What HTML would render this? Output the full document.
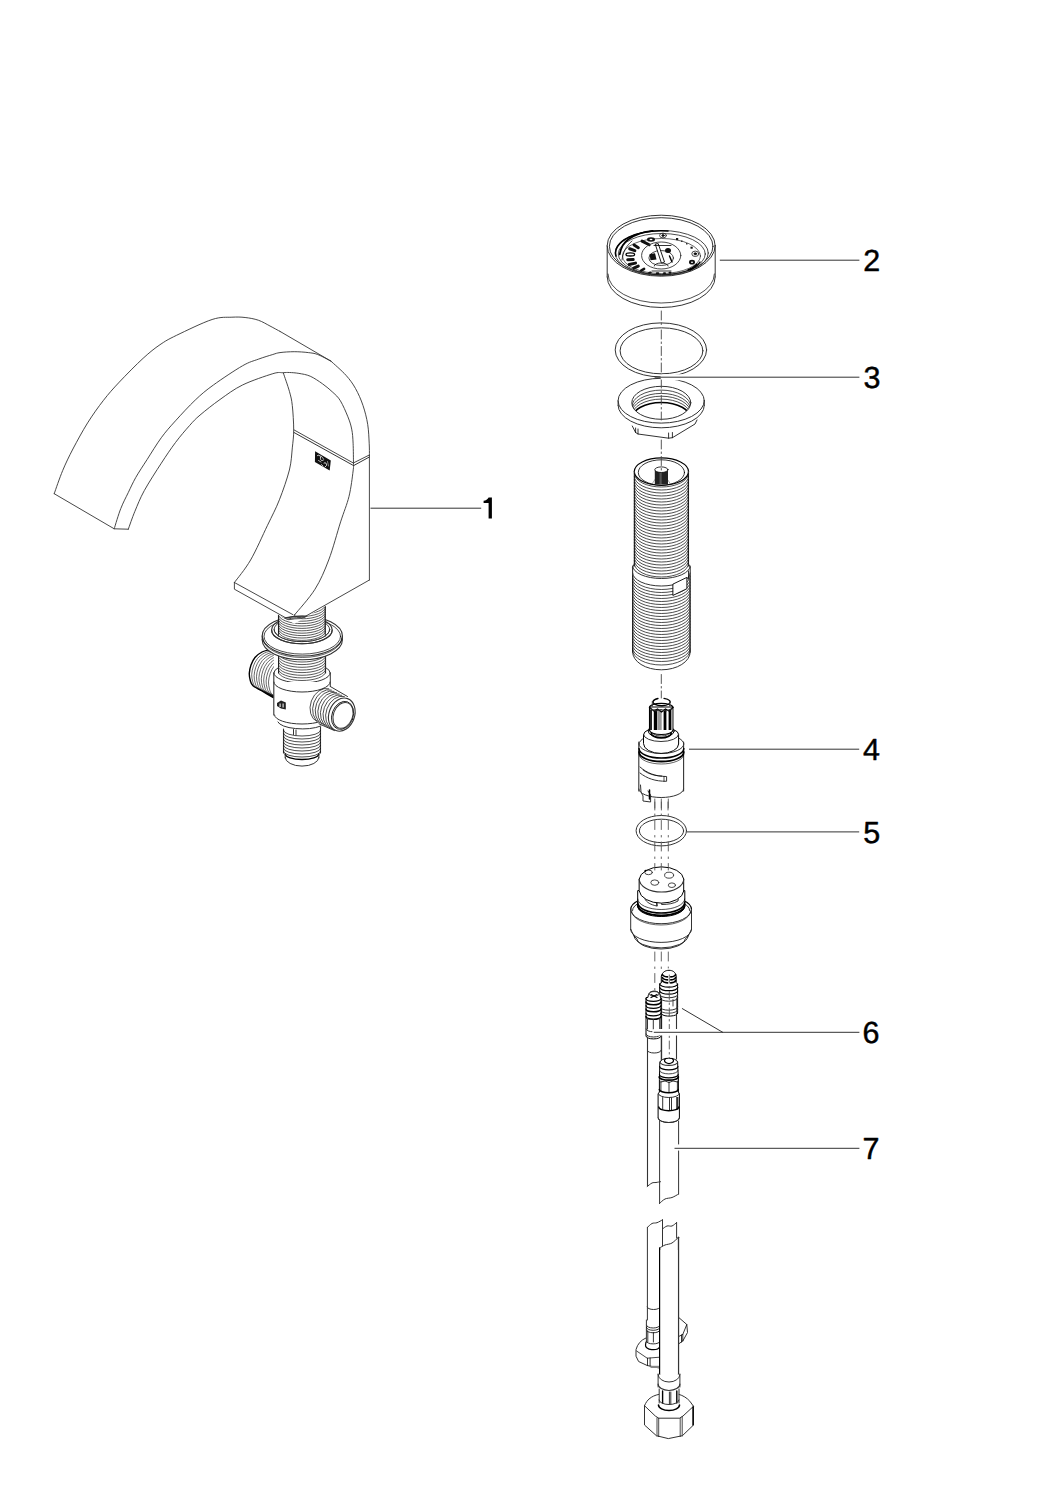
<!DOCTYPE html>
<html><head><meta charset="utf-8"><style>
html,body{margin:0;padding:0;background:#fff;width:1060px;height:1500px;overflow:hidden}
svg{display:block}
text{font-family:"Liberation Sans",sans-serif;fill:#000;text-rendering:geometricPrecision}
</style></head><body>
<svg width="1060" height="1500" viewBox="0 0 1060 1500" stroke-linecap="round" stroke-linejoin="round">
<rect width="1060" height="1500" fill="#fff"/>
<path d="M54.2,493.7 C55.6,489.8 59.6,477.9 62.7,470.5 C65.8,463.1 68.8,456.9 72.9,449 C77.1,441.1 82.5,431 87.6,422.9 C92.7,414.8 98.2,407.1 103.5,400.3 C108.8,393.5 112.7,389.1 119.3,382.1 C125.9,375.1 136.3,364.5 143.1,358.3 C149.9,352.1 154.4,348.5 160,344.7 C165.6,340.9 167.7,339.6 176.4,335.4 C185.1,331.2 202.8,322.5 212.1,319.5 C221.3,316.5 226.4,317.5 231.9,317.2 C237.4,316.9 240.7,317 245.1,317.5 C249.5,318 254.2,318.8 258.3,320.2 C262.4,321.6 266.4,324.1 270,326 C273.6,327.9 278.3,330.5 280,331.4" stroke="#333" stroke-width="0.9" fill="none" />
<path d="M280,331.4 L330.9,361.1" stroke="#333" stroke-width="0.9" fill="none" />
<path d="M330.9,361.1 C333.4,363.5 341.9,370.7 346,375.3 C350.1,379.9 352.7,383.5 355.5,388.5 C358.3,393.5 361,399.5 363,405.5 C365,411.5 366.7,418 367.7,424.3 C368.7,430.6 368.9,438 369.2,443.2 C369.5,448.4 369.4,453.4 369.4,455.5" stroke="#333" stroke-width="0.9" fill="none" />
<line x1="369.4" y1="455.5" x2="369.4" y2="580" stroke="#333" stroke-width="0.9" />
<path d="M114.2,528.8 C115.3,525.4 118.4,514.5 120.8,508.5 C123.2,502.4 125.8,497.7 128.3,492.5 C130.8,487.3 132.7,482.9 135.8,477.4 C139,471.9 142.9,466 147.2,459.4 C151.4,452.8 156.6,444.1 161.3,437.7 C166,431.3 169.8,427.1 175.5,420.8 C181.2,414.5 189,406 195.3,400 C201.6,394 205.5,390.7 213.4,385 C221.3,379.3 235,370.1 242.5,365.8 C250,361.5 253.2,361.1 258.3,359.2 C263.4,357.3 269.2,355.6 272.8,354.5 C276.4,353.4 276.4,353.1 280,352.6 C283.6,352.1 289.5,351.7 294.2,351.7 C298.9,351.7 304.4,352.1 308.3,352.6 C312.2,353.1 313.9,353.1 317.7,354.5 C321.5,355.9 328.7,360 330.9,361.1" stroke="#333" stroke-width="0.9" fill="none" />
<path d="M128.3,529.2 C129.4,526.2 132.2,517.7 134.9,511.3 C137.6,504.9 139.9,498.6 144.3,490.6 C148.7,482.6 156.1,471.2 161.3,463.2 C166.5,455.2 170.8,448.8 175.5,442.5 C180.2,436.2 185.5,430.1 189.6,425.5 C193.7,420.9 194.9,419.4 200,415.1 C205.1,410.8 212.9,404.5 220,399.5 C227.1,394.5 233.7,389.3 242.5,385 C251.3,380.7 266,375.8 272.8,373.7 C279.6,371.6 280.5,372.9 283.3,372.7 C286.1,372.5 286.8,372.4 289.4,372.5 C292,372.6 295.4,372.8 298.9,373.4 C302.4,374 306.3,374.5 310.2,376.2 C314.1,377.9 318.7,381.1 322.5,383.8 C326.3,386.5 329.8,389.5 332.8,392.3 C335.8,395.1 337.9,396.7 340.4,400.8 C342.9,404.9 346,412.1 347.9,416.8 C349.8,421.5 350.8,424.7 351.7,429.1 C352.6,433.5 352.8,437.5 353.1,443.2 C353.4,448.9 353.4,460.1 353.5,463.5" stroke="#333" stroke-width="0.9" fill="none" />
<path d="M353.5,463.5 C353.4,464.8 353.9,465.5 353.1,471 C352.4,476.5 351.1,487.9 349,496.4 C346.9,504.9 344,511.3 340.6,521.9 C337.2,532.5 333,548.8 328.7,560 C324.4,571.2 320.7,580.1 315,589.2 C309.3,598.3 298.1,610.5 294.7,614.7" stroke="#333" stroke-width="0.9" fill="none" />
<path d="M283.3,372.9 C284.3,376 287.9,385.9 289.4,391.3 C290.9,396.7 291.6,399.1 292.3,405.5 C293,411.9 293.7,422.9 293.7,430 C293.7,437.1 293,441.2 292.3,447.9 C291.6,454.6 291.5,461.4 289.4,470 C287.2,478.6 283,490.6 279.4,499.8 C275.8,509 272.3,515.3 267.5,525.3 C262.7,535.3 256.1,550.5 250.6,560 C245.1,569.5 237.1,578.8 234.4,582.5" stroke="#333" stroke-width="0.9" fill="none" />
<path d="M54.2,493.7 L114.2,528.8 L128.3,529.2" stroke="#333" stroke-width="0.9" fill="none" />
<path d="M294.2,430 L353.3,463 L368.9,455.2" stroke="#333" stroke-width="0.9" fill="none" />
<path d="M294.2,432.6 L353.6,465.6 L369,457.2" stroke="#000" stroke-width="0.8" fill="none" />
<polygon points="315.1,451.3 330.8,460.4 329.7,470.6 314.9,462.1" fill="#111"/>
<path d="M317.5,455.5 C319,454.5 321,456 320.5,458 C320,460 322,461.5 323.5,460" stroke="#eee" stroke-width="0.9" fill="none" />
<path d="M321,455.8 L323.5,459" stroke="#ddd" stroke-width="0.8" fill="none" />
<path d="M318.5,460.5 L321,462" stroke="#ddd" stroke-width="0.8" fill="none" />
<path d="M324,463 C325.5,462 327,463.5 326.5,465.5 L325,467" stroke="#e8e8e8" stroke-width="0.9" fill="none" />
<path d="M327.5,461.5 L328.5,466" stroke="#bbb" stroke-width="0.7" fill="none" />
<path d="M321.5,464.5 L323,466" stroke="#ddd" stroke-width="0.8" fill="none" />
<path d="M234.4,582.5 L293,614.7" stroke="#333" stroke-width="0.9" fill="none" />
<path d="M234.4,582.5 L234.4,589.2 L293.9,622.4" stroke="#333" stroke-width="0.9" fill="none" />
<line x1="294.7" y1="614.7" x2="294.7" y2="622.4" stroke="#333" stroke-width="0.9" />
<path d="M369.4,580 L294.7,622.4" stroke="#333" stroke-width="0.9" fill="none" />
<clipPath id="clc"><rect x="240" y="640" width="33.8" height="70"/></clipPath>
<g clip-path="url(#clc)">
<path d="M270,649.5 C268.7,649.9 264.5,650.7 262,652 C259.5,653.3 256.8,655.3 255,657.5 C253.2,659.7 251.9,662.4 251,665 C250.1,667.6 249.4,670.7 249.3,673.3 C249.2,675.9 249.7,678.4 250.3,680.5 C250.9,682.6 251.1,684 253,685.7 C254.9,687.5 258.6,689 262,691 C265.4,693 271.5,696.5 273.4,697.6" stroke="#000" stroke-width="1.4" fill="none" />
<path d="M272.4,650.6 C271.1,651 266.9,651.7 264.4,653.1 C261.9,654.4 259.2,656.4 257.4,658.6 C255.6,660.7 254.3,663.4 253.4,666.1 C252.5,668.7 251.8,671.8 251.7,674.4 C251.6,677 252.1,679.5 252.7,681.6 C253.3,683.6 253.5,685 255.4,686.8 C257.4,688.5 261,690.1 264.4,692.1 C267.8,694.1 273.9,697.6 275.8,698.7" stroke="#000" stroke-width="0.6" fill="none" />
<path d="M274.8,651.7 C273.5,652.1 269.3,652.8 266.8,654.2 C264.3,655.5 261.6,657.5 259.8,659.7 C258,661.8 256.8,664.5 255.8,667.2 C254.9,669.8 254.2,672.9 254.1,675.5 C254,678 254.5,680.6 255.1,682.7 C255.7,684.7 255.9,686.1 257.8,687.9 C259.8,689.6 263.4,691.2 266.8,693.2 C270.2,695.1 276.3,698.7 278.2,699.8" stroke="#000" stroke-width="0.6" fill="none" />
<path d="M277.2,652.7 C275.9,653.2 271.7,653.9 269.2,655.2 C266.7,656.6 264,658.6 262.2,660.7 C260.4,662.9 259.1,665.6 258.2,668.2 C257.2,670.9 256.6,674 256.5,676.5 C256.4,679.1 256.9,681.7 257.5,683.7 C258.1,685.8 258.2,687.2 260.2,688.9 C262.1,690.7 265.8,692.3 269.2,694.2 C272.6,696.2 278.7,699.7 280.6,700.8" stroke="#000" stroke-width="0.6" fill="none" />
<path d="M279.6,653.8 C278.3,654.2 274.1,655 271.6,656.3 C269.1,657.7 266.4,659.7 264.6,661.8 C262.8,664 261.6,666.7 260.6,669.3 C259.7,672 259,675 258.9,677.6 C258.8,680.2 259.3,682.8 259.9,684.8 C260.5,686.9 260.7,688.3 262.6,690 C264.6,691.8 268.2,693.3 271.6,695.3 C275,697.3 281.1,700.8 283,701.9" stroke="#000" stroke-width="0.6" fill="none" />
<path d="M282,654.9 C280.7,655.3 276.5,656.1 274,657.4 C271.5,658.7 268.8,660.7 267,662.9 C265.2,665.1 263.9,667.8 263,670.4 C262.1,673 261.4,676.1 261.3,678.7 C261.2,681.3 261.7,683.8 262.3,685.9 C262.9,688 263.1,689.4 265,691.1 C266.9,692.9 270.6,694.4 274,696.4 C277.4,698.4 283.5,701.9 285.4,703" stroke="#000" stroke-width="0.6" fill="none" />
<path d="M284.4,656 C283.1,656.4 278.9,657.1 276.4,658.5 C273.9,659.8 271.2,661.8 269.4,664 C267.6,666.1 266.3,668.8 265.4,671.5 C264.4,674.1 263.8,677.2 263.7,679.8 C263.6,682.4 264.1,684.9 264.7,687 C265.3,689 265.4,690.4 267.4,692.2 C269.3,693.9 273,695.5 276.4,697.5 C279.8,699.5 285.9,703 287.8,704.1" stroke="#000" stroke-width="0.6" fill="none" />
<path d="M286.8,657.1 C285.5,657.5 281.3,658.2 278.8,659.6 C276.3,660.9 273.6,662.9 271.8,665.1 C270,667.2 268.8,669.9 267.8,672.6 C266.9,675.2 266.2,678.3 266.1,680.9 C266,683.4 266.5,686 267.1,688.1 C267.7,690.1 267.9,691.5 269.8,693.3 C271.8,695 275.4,696.6 278.8,698.6 C282.2,700.5 288.3,704.1 290.2,705.2" stroke="#000" stroke-width="0.6" fill="none" />
<path d="M289.2,658.1 C287.9,658.6 283.7,659.3 281.2,660.6 C278.7,662 276,664 274.2,666.1 C272.4,668.3 271.1,671 270.2,673.6 C269.2,676.3 268.6,679.4 268.5,681.9 C268.4,684.5 268.9,687.1 269.5,689.1 C270.1,691.2 270.2,692.6 272.2,694.3 C274.1,696.1 277.8,697.7 281.2,699.6 C284.6,701.6 290.7,705.1 292.6,706.2" stroke="#000" stroke-width="0.6" fill="none" />
</g>
<line x1="278.5" y1="650" x2="278.5" y2="673" stroke="#333" stroke-width="1" />
<line x1="325.6" y1="650" x2="325.6" y2="673" stroke="#333" stroke-width="1" />
<path d="M278.5,653.5 A23.5,8.5 0 0 0 325.5,653.5" stroke="#000" stroke-width="0.65" fill="none" />
<path d="M278.5,656.1 A23.5,8.5 0 0 0 325.5,656.1" stroke="#000" stroke-width="0.65" fill="none" />
<path d="M278.5,658.8 A23.5,8.5 0 0 0 325.5,658.8" stroke="#000" stroke-width="0.65" fill="none" />
<path d="M278.5,661.5 A23.5,8.5 0 0 0 325.5,661.5" stroke="#000" stroke-width="0.65" fill="none" />
<path d="M278.5,664.1 A23.5,8.5 0 0 0 325.5,664.1" stroke="#000" stroke-width="0.65" fill="none" />
<path d="M278.5,666.8 A23.5,8.5 0 0 0 325.5,666.8" stroke="#000" stroke-width="0.65" fill="none" />
<path d="M278.5,669.4 A23.5,8.5 0 0 0 325.5,669.4" stroke="#000" stroke-width="0.65" fill="none" />
<path d="M278.5,672 A23.5,8.5 0 0 0 325.5,672" stroke="#000" stroke-width="0.65" fill="none" />
<path d="M273.8,673 A28.2,10 0 0 0 330.3,673 L330.3,700 L273.8,715 Z" fill="#fff"/>
<path d="M273.8,673 A28.2,10 0 0 0 330.2,673" stroke="#333" stroke-width="1" fill="none" />
<path d="M273.8,673 A28.2,10 0 0 1 278.5,667.5" stroke="#333" stroke-width="1" fill="none" />
<path d="M325.6,667.5 A28.2,10 0 0 1 330.3,673" stroke="#333" stroke-width="1" fill="none" />
<path d="M273.8,682 L273.8,715 A27.5,9 0 0 0 330.3,715 L330.3,682 Z" fill="#fff"/>
<line x1="273.8" y1="673" x2="273.8" y2="715" stroke="#333" stroke-width="1.1" />
<line x1="330.3" y1="673" x2="330.3" y2="686.5" stroke="#333" stroke-width="1" />
<path d="M273.8,682 A28.2,10 0 0 0 330.2,682" stroke="#333" stroke-width="1" fill="none" />
<path d="M274.5,715 A27.5,9 0 0 0 329.5,715" stroke="#333" stroke-width="1" fill="none" />
<path d="M277.9,722 A24.5,8 0 0 0 320.9,726" stroke="#333" stroke-width="1" fill="none" />
<path d="M262.2,636 A40.1,20 0 0 1 342.4,636 L342.4,639.8 A40.1,20 0 0 1 262.2,639.8 Z" fill="#fff"/>
<ellipse cx="302.3" cy="636" rx="40.1" ry="20" stroke="#333" stroke-width="1.1" fill="none" />
<ellipse cx="302.3" cy="636.3" rx="38.3" ry="17.8" stroke="#000" stroke-width="0.7" fill="none" />
<path d="M262.2,639.8 A40.1,20 0 0 0 342.4,639.8" stroke="#333" stroke-width="1.1" fill="none" />
<path d="M262.8,638 A39.5,19.5 0 0 0 341.8,638" stroke="#000" stroke-width="0.6" fill="none" />
<line x1="262.2" y1="636" x2="262.2" y2="639.8" stroke="#333" stroke-width="1" />
<line x1="342.4" y1="636" x2="342.4" y2="639.8" stroke="#333" stroke-width="1" />
<ellipse cx="301.9" cy="630" rx="30.3" ry="13.8" stroke="#333" stroke-width="1.1" fill="none" />
<ellipse cx="301.9" cy="629.5" rx="27.8" ry="12.1" stroke="#333" stroke-width="0.9" fill="none" />
<path d="M271.6,630 A30.3,13.8 0 0 0 332.2,630" stroke="#333" stroke-width="1.1" fill="none" />
<clipPath id="cf"><polygon points="200,561 234.4,590.6 294.3,623.8 369.4,581.3 400,561 400,700 200,700"/></clipPath>
<g clip-path="url(#cf)">
<path d="M278.5,590 L278.5,636 A27.8,12.1 0 0 0 325.3,636 L325.3,590 Z" fill="#fff"/>
<line x1="278.5" y1="600" x2="278.5" y2="636" stroke="#333" stroke-width="1.1" />
<line x1="325.3" y1="600" x2="325.3" y2="636" stroke="#333" stroke-width="1.1" />
<path d="M278.5,605 A23.4,9 0 0 0 325.3,605" stroke="#000" stroke-width="0.65" fill="none" />
<path d="M278.5,607.4 A23.4,9 0 0 0 325.3,607.4" stroke="#000" stroke-width="0.65" fill="none" />
<path d="M278.5,609.8 A23.4,9 0 0 0 325.3,609.8" stroke="#000" stroke-width="0.65" fill="none" />
<path d="M278.5,612.2 A23.4,9 0 0 0 325.3,612.2" stroke="#000" stroke-width="0.65" fill="none" />
<path d="M278.5,614.6 A23.4,9 0 0 0 325.3,614.6" stroke="#000" stroke-width="0.65" fill="none" />
<path d="M278.5,617 A23.4,9 0 0 0 325.3,617" stroke="#000" stroke-width="0.65" fill="none" />
<path d="M278.5,619.4 A23.4,9 0 0 0 325.3,619.4" stroke="#000" stroke-width="0.65" fill="none" />
<path d="M278.5,621.8 A23.4,9 0 0 0 325.3,621.8" stroke="#000" stroke-width="0.65" fill="none" />
<path d="M278.5,624.2 A23.4,9 0 0 0 325.3,624.2" stroke="#000" stroke-width="0.65" fill="none" />
<path d="M278.5,626.6 A23.4,9 0 0 0 325.3,626.6" stroke="#000" stroke-width="0.65" fill="none" />
<path d="M278.5,629 A23.4,9 0 0 0 325.3,629" stroke="#000" stroke-width="0.65" fill="none" />
<path d="M278.5,631.4 A23.4,9 0 0 0 325.3,631.4" stroke="#000" stroke-width="0.65" fill="none" />
</g>
<path d="M274.1,629.5 A27.8,12.1 0 0 0 329.7,629.5" stroke="#333" stroke-width="1.0" fill="none" />
<polygon points="277,703 281,700.5 285.8,702.5 285.8,709.5 281,708.5 277,706" fill="#222"/>
<rect x="279.5" y="703.5" width="1.2" height="3.5" fill="#ddd"/>
<rect x="282.5" y="703.5" width="1.2" height="4" fill="#ddd"/>
<polygon points="311,700 330.3,686.5 349,697 352,720 334.5,730.6 321,724.7 311,716" fill="#fff"/>
<line x1="330.3" y1="686.5" x2="347.5" y2="696.5" stroke="#333" stroke-width="1" />
<line x1="319" y1="723.8" x2="334.5" y2="730.6" stroke="#333" stroke-width="1" />
<path d="M328.8,688.7 A13,17.5 20 0 0 316.8,721.5" stroke="#000" stroke-width="0.7" fill="none" />
<path d="M331.4,690.0 A13,17.5 20 0 0 319.4,722.8" stroke="#000" stroke-width="0.7" fill="none" />
<path d="M334.0,691.3 A13,17.5 20 0 0 322.0,724.1" stroke="#000" stroke-width="0.7" fill="none" />
<path d="M336.6,692.6 A13,17.5 20 0 0 324.6,725.4" stroke="#000" stroke-width="0.7" fill="none" />
<path d="M339.2,693.9 A13,17.5 20 0 0 327.2,726.7" stroke="#000" stroke-width="0.7" fill="none" />
<path d="M341.8,695.2 A13,17.5 20 0 0 329.8,728.0" stroke="#000" stroke-width="0.7" fill="none" />
<path d="M344.4,696.5 A13,17.5 20 0 0 332.4,729.3" stroke="#000" stroke-width="0.7" fill="none" />
<ellipse cx="341.8" cy="714.6" rx="12.8" ry="17" stroke="#333" stroke-width="1.1" fill="#fff" transform="rotate(20 341.8 714.6)" />
<ellipse cx="342.6" cy="715.4" rx="10.6" ry="14.4" stroke="#000" stroke-width="0.8" fill="none" transform="rotate(20 342.6 715.4)" />
<ellipse cx="343" cy="715.4" rx="9.6" ry="13.3" stroke="#333" stroke-width="1" fill="#fff" transform="rotate(20 343 715.4)" />
<line x1="283.5" y1="729" x2="283.5" y2="753" stroke="#333" stroke-width="1.1" />
<line x1="320.5" y1="727" x2="320.5" y2="753" stroke="#333" stroke-width="1.1" />
<path d="M283.5,730.5 A18.5,5.5 0 0 0 320.5,730.5" stroke="#000" stroke-width="0.7" fill="none" />
<path d="M283.5,733.5 A18.5,5.5 0 0 0 320.5,733.5" stroke="#000" stroke-width="0.7" fill="none" />
<path d="M283.5,736.5 A18.5,5.5 0 0 0 320.5,736.5" stroke="#000" stroke-width="0.7" fill="none" />
<path d="M283.5,739.5 A18.5,5.5 0 0 0 320.5,739.5" stroke="#000" stroke-width="0.7" fill="none" />
<path d="M283.5,742.5 A18.5,5.5 0 0 0 320.5,742.5" stroke="#000" stroke-width="0.7" fill="none" />
<path d="M283.5,745.5 A18.5,5.5 0 0 0 320.5,745.5" stroke="#000" stroke-width="0.7" fill="none" />
<path d="M283.5,748.5 A18.5,5.5 0 0 0 320.5,748.5" stroke="#000" stroke-width="0.7" fill="none" />
<path d="M283.5,751.5 A18.5,5.5 0 0 0 320.5,751.5" stroke="#000" stroke-width="0.7" fill="none" />
<path d="M285.2,754 A16.8,5.5 0 0 0 318.8,754" stroke="#000" stroke-width="1.4" fill="none" />
<line x1="285.2" y1="754" x2="285.2" y2="758" stroke="#333" stroke-width="1" />
<line x1="318.9" y1="754" x2="318.9" y2="758" stroke="#333" stroke-width="1" />
<path d="M285.2,757.5 A16.8,8.6 0 0 0 318.8,757.5" stroke="#333" stroke-width="1" fill="none" />
<path d="M293.5,729.5 L293.5,734.5" stroke="#000" stroke-width="0.8" fill="none" />
<path d="M296,730 L296,735" stroke="#000" stroke-width="0.8" fill="none" />
<ellipse cx="661.2" cy="245.7" rx="54" ry="30.5" stroke="#333" stroke-width="1" fill="none" />
<ellipse cx="661.2" cy="246.3" rx="51.8" ry="28.6" stroke="#000" stroke-width="0.8" fill="none" />
<line x1="607.2" y1="245.7" x2="607.2" y2="277" stroke="#333" stroke-width="1" />
<line x1="715.2" y1="245.7" x2="715.2" y2="277" stroke="#333" stroke-width="1" />
<path d="M607.2,277 A54,30.5 0 0 0 715.2,277" stroke="#333" stroke-width="1" fill="none" />
<path d="M608,274 A53.2,29 0 0 0 714.4,274" stroke="#000" stroke-width="0.7" fill="none" />
<ellipse cx="661.8" cy="253" rx="46.5" ry="22.5" stroke="#333" stroke-width="0.9" fill="none" />
<ellipse cx="661.8" cy="254" rx="43.5" ry="20.5" stroke="#000" stroke-width="0.7" fill="none" />
<path d="M616,256 A46,22 0 0 1 668,231" stroke="#000" stroke-width="1.6" fill="none" />
<path d="M700,262 A42,19.5 0 0 1 690,270" stroke="#000" stroke-width="1.4" fill="none" />
<ellipse cx="661.5" cy="256" rx="39" ry="17.5" stroke="#000" stroke-width="0.6" fill="none" />
<rect x="640.1" y="241.4" width="11.0" height="3.0" rx="1.5" fill="#111" transform="rotate(27 645.6 242.9)"/>
<rect x="632.2" y="244.9" width="8.0" height="3.0" rx="1.5" fill="#111" transform="rotate(32 636.2 246.4)"/>
<rect x="628.0" y="248.2" width="8.5" height="3.0" rx="1.5" fill="#111" transform="rotate(20 632.2 249.7)"/>
<rect x="626.2" y="258.1" width="8.5" height="3.0" rx="1.5" fill="#111" transform="rotate(-3 630.5 259.6)"/>
<rect x="627.6" y="262.3" width="9.5" height="3.0" rx="1.5" fill="#111" transform="rotate(-12 632.4 263.8)"/>
<rect x="632.0" y="265.6" width="8.0" height="3.0" rx="1.5" fill="#111" transform="rotate(-25 636.0 267.1)"/>
<rect x="639.6" y="268.4" width="6.0" height="2.6" rx="1.3" fill="#111" transform="rotate(-30 642.6 269.7)"/>
<rect x="648.2" y="271.6" width="3.5" height="2.0" rx="1.0" fill="#111" transform="rotate(-10 650.0 272.6)"/>
<rect x="655.8" y="272.2" width="3.5" height="2.0" rx="1.0" fill="#111" transform="rotate(0 657.5 273.2)"/>
<rect x="663.0" y="272.2" width="3.0" height="2.0" rx="1.0" fill="#111" transform="rotate(0 664.5 273.2)"/>
<rect x="668.5" y="271.8" width="3.0" height="2.0" rx="1.0" fill="#111" transform="rotate(5 670.0 272.8)"/>
<ellipse cx="651" cy="239.5" rx="4" ry="2.2" stroke="#000" stroke-width="0" fill="#111" />
<ellipse cx="651" cy="239.5" rx="1.5" ry="0.8" stroke="#000" stroke-width="0" fill="#fff" />
<ellipse cx="630.3" cy="254.4" rx="4.3" ry="1.6" stroke="#000" stroke-width="1.3" fill="none" />
<path d="M619.7,254.4 C621,247 625,241.5 629.2,238.8 C637,233.5 645,231.5 652.7,230.8" stroke="#000" stroke-width="1.8" fill="none" />
<path d="M622,260 C623,252 626,246 632,241" stroke="#000" stroke-width="0.7" fill="none" />
<ellipse cx="692" cy="262.2" rx="3" ry="2.4" stroke="#000" stroke-width="0" fill="#111" />
<ellipse cx="692" cy="262.2" rx="1" ry="0.8" stroke="#000" stroke-width="0" fill="#fff" />
<rect x="676" y="238" width="2.2" height="2.2" fill="#111"/>
<rect x="690.5" y="246.7" width="2.2" height="2" fill="#111"/>
<rect x="681" y="240.5" width="1.5" height="1.5" fill="#333"/>
<rect x="686" y="243" width="1.5" height="1.5" fill="#333"/>
<ellipse cx="663" cy="235.5" rx="3.4" ry="2.4" stroke="#333" stroke-width="0.9" fill="none" />
<ellipse cx="663" cy="235.5" rx="1.3" ry="1" stroke="#000" stroke-width="0.6" fill="#111" />
<ellipse cx="695.3" cy="253.8" rx="3.5" ry="2.7" stroke="#333" stroke-width="0.9" fill="none" />
<ellipse cx="695.3" cy="253.8" rx="1.4" ry="1.1" stroke="#000" stroke-width="0.6" fill="#111" />
<path d="M697,264 A40,17 0 0 1 688,270" stroke="#000" stroke-width="1.4" fill="none" />
<ellipse cx="661.2" cy="255.5" rx="19.6" ry="13.5" stroke="#333" stroke-width="0.9" fill="none" />
<ellipse cx="661.2" cy="258" rx="12.3" ry="7.5" stroke="#333" stroke-width="0.9" fill="none" />
<path d="M654.2,266 A7,3 0 0 1 668.2,266" stroke="#000" stroke-width="0.8" fill="none" />
<polygon points="649.5,254 655,253.2 656.5,259.5 650.5,260.3" fill="#111"/>
<ellipse cx="668" cy="250.5" rx="3" ry="2.5" stroke="#000" stroke-width="0" fill="#111" />
<path d="M669.5,256 L672,262" stroke="#000" stroke-width="1.4" fill="none" />
<polygon points="655.6,244 658.2,243.6 664.5,262 661.8,263" fill="#fff" stroke="#000" stroke-width="0.9"/>
<path d="M654,245.5 L671,245.5" stroke="#000" stroke-width="0.8" fill="none" />
<path d="M652,271 L671,271" stroke="#000" stroke-width="0.8" fill="none" />
<ellipse cx="660.9" cy="349.9" rx="45.7" ry="27" stroke="#333" stroke-width="1" fill="none" />
<ellipse cx="661.5" cy="350.8" rx="41.4" ry="23" stroke="#333" stroke-width="1" fill="none" />
<ellipse cx="661.2" cy="400.7" rx="43.1" ry="22.4" stroke="#333" stroke-width="1" fill="none" />
<path d="M618.1,405.4 A43.1,22.4 0 0 0 704.3,405.4" stroke="#333" stroke-width="1" fill="none" />
<line x1="618.1" y1="400.7" x2="618.1" y2="405.4" stroke="#333" stroke-width="1" />
<line x1="704.3" y1="400.7" x2="704.3" y2="405.4" stroke="#333" stroke-width="1" />
<ellipse cx="661.3" cy="402.8" rx="29.5" ry="16.5" stroke="#333" stroke-width="1" fill="none" />
<clipPath id="ch"><ellipse cx="661.3" cy="402.8" rx="29.3" ry="16.3"/></clipPath>
<g clip-path="url(#ch)">
<path d="M631.8,406.6 A29.5,16.5 0 0 1 690.8,406.6" stroke="#000" stroke-width="0.7" fill="none" />
<path d="M631.8,409.9 A29.5,16.5 0 0 1 690.8,409.9" stroke="#000" stroke-width="0.7" fill="none" />
<path d="M631.8,412.7 A29.5,16.5 0 0 1 690.8,412.7" stroke="#000" stroke-width="0.7" fill="none" />
<path d="M631.8,415.6 A29.5,16.5 0 0 1 690.8,415.6" stroke="#000" stroke-width="0.7" fill="none" />
<path d="M631.8,418.9 A29.5,16.5 0 0 1 690.8,418.9" stroke="#000" stroke-width="1.5" fill="none" />
</g>
<path d="M632.3,426 L635.6,432.5 L638,434 L668.6,438.2 L672.4,437.7 L695,424 L697,420" stroke="#333" stroke-width="1" fill="none" />
<line x1="635.6" y1="428" x2="635.6" y2="432.5" stroke="#000" stroke-width="0.8" />
<line x1="638" y1="429" x2="638" y2="434" stroke="#000" stroke-width="0.8" />
<line x1="668.6" y1="433" x2="668.6" y2="438.2" stroke="#000" stroke-width="0.8" />
<line x1="672.4" y1="432.5" x2="672.4" y2="437.7" stroke="#000" stroke-width="0.8" />
<ellipse cx="661.4" cy="471.6" rx="27.1" ry="13.7" stroke="#000" stroke-width="1.2" fill="none" />
<ellipse cx="661.4" cy="472.5" rx="23.1" ry="12.7" stroke="#000" stroke-width="0.8" fill="none" />
<line x1="634.3" y1="471.6" x2="634.3" y2="566" stroke="#333" stroke-width="1.1" />
<line x1="688.5" y1="471.6" x2="688.5" y2="566" stroke="#333" stroke-width="1.1" />
<path d="M634.3,473.5 A27.1,13.5 0 0 0 688.5,473.5" stroke="#000" stroke-width="0.7" fill="none" />
<path d="M634.3,476.5 A27.1,13.5 0 0 0 688.5,476.5" stroke="#000" stroke-width="0.7" fill="none" />
<path d="M634.3,479.5 A27.1,13.5 0 0 0 688.5,479.5" stroke="#000" stroke-width="0.7" fill="none" />
<path d="M634.3,482.5 A27.1,13.5 0 0 0 688.5,482.5" stroke="#000" stroke-width="0.7" fill="none" />
<path d="M634.3,485.5 A27.1,13.5 0 0 0 688.5,485.5" stroke="#000" stroke-width="0.7" fill="none" />
<path d="M634.3,488.5 A27.1,13.5 0 0 0 688.5,488.5" stroke="#000" stroke-width="0.7" fill="none" />
<path d="M634.3,491.5 A27.1,13.5 0 0 0 688.5,491.5" stroke="#000" stroke-width="0.7" fill="none" />
<path d="M634.3,494.5 A27.1,13.5 0 0 0 688.5,494.5" stroke="#000" stroke-width="0.7" fill="none" />
<path d="M634.3,497.5 A27.1,13.5 0 0 0 688.5,497.5" stroke="#000" stroke-width="0.7" fill="none" />
<path d="M634.3,500.5 A27.1,13.5 0 0 0 688.5,500.5" stroke="#000" stroke-width="0.7" fill="none" />
<path d="M634.3,503.5 A27.1,13.5 0 0 0 688.5,503.5" stroke="#000" stroke-width="0.7" fill="none" />
<path d="M634.3,506.5 A27.1,13.5 0 0 0 688.5,506.5" stroke="#000" stroke-width="0.7" fill="none" />
<path d="M634.3,509.5 A27.1,13.5 0 0 0 688.5,509.5" stroke="#000" stroke-width="0.7" fill="none" />
<path d="M634.3,512.5 A27.1,13.5 0 0 0 688.5,512.5" stroke="#000" stroke-width="0.7" fill="none" />
<path d="M634.3,515.5 A27.1,13.5 0 0 0 688.5,515.5" stroke="#000" stroke-width="0.7" fill="none" />
<path d="M634.3,518.5 A27.1,13.5 0 0 0 688.5,518.5" stroke="#000" stroke-width="0.7" fill="none" />
<path d="M634.3,521.5 A27.1,13.5 0 0 0 688.5,521.5" stroke="#000" stroke-width="0.7" fill="none" />
<path d="M634.3,524.5 A27.1,13.5 0 0 0 688.5,524.5" stroke="#000" stroke-width="0.7" fill="none" />
<path d="M634.3,527.5 A27.1,13.5 0 0 0 688.5,527.5" stroke="#000" stroke-width="0.7" fill="none" />
<path d="M634.3,530.5 A27.1,13.5 0 0 0 688.5,530.5" stroke="#000" stroke-width="0.7" fill="none" />
<path d="M634.3,533.5 A27.1,13.5 0 0 0 688.5,533.5" stroke="#000" stroke-width="0.7" fill="none" />
<path d="M634.3,536.5 A27.1,13.5 0 0 0 688.5,536.5" stroke="#000" stroke-width="0.7" fill="none" />
<path d="M634.3,539.5 A27.1,13.5 0 0 0 688.5,539.5" stroke="#000" stroke-width="0.7" fill="none" />
<path d="M634.3,542.5 A27.1,13.5 0 0 0 688.5,542.5" stroke="#000" stroke-width="0.7" fill="none" />
<path d="M634.3,545.5 A27.1,13.5 0 0 0 688.5,545.5" stroke="#000" stroke-width="0.7" fill="none" />
<path d="M634.3,548.5 A27.1,13.5 0 0 0 688.5,548.5" stroke="#000" stroke-width="0.7" fill="none" />
<path d="M634.3,551.5 A27.1,13.5 0 0 0 688.5,551.5" stroke="#000" stroke-width="0.7" fill="none" />
<path d="M634.3,554.5 A27.1,13.5 0 0 0 688.5,554.5" stroke="#000" stroke-width="0.7" fill="none" />
<path d="M634.3,557.5 A27.1,13.5 0 0 0 688.5,557.5" stroke="#000" stroke-width="0.7" fill="none" />
<path d="M634.3,560.5 A27.1,13.5 0 0 0 688.5,560.5" stroke="#000" stroke-width="0.7" fill="none" />
<path d="M634.3,563.5 A27.1,13.5 0 0 0 688.5,563.5" stroke="#000" stroke-width="0.7" fill="none" />
<path d="M652,484 L656,478 L666.5,478 L670.5,484" stroke="#666" stroke-width="0.6" fill="none" />
<rect x="654.8" y="469.7" width="13.2" height="14.5" fill="#222"/>
<rect x="659.5" y="471" width="2.2" height="13" fill="#555"/>
<ellipse cx="661.4" cy="469.7" rx="6.6" ry="2.8" stroke="#000" stroke-width="0.8" fill="#fff" />
<path d="M632.6,566 A28.8,12.5 0 0 0 690.2,566 L690.2,653 L632.6,653 Z" fill="#fff"/>
<line x1="632.6" y1="567" x2="632.6" y2="652" stroke="#333" stroke-width="1.1" />
<line x1="690.2" y1="567" x2="690.2" y2="652" stroke="#333" stroke-width="1.1" />
<path d="M632.6,566 A28.8,12.5 0 0 0 690.2,566" stroke="#333" stroke-width="1" fill="none" />
<path d="M632.6,573 A28.8,13 0 0 0 690.2,573" stroke="#333" stroke-width="1" fill="none" />
<path d="M632.6,576 A28.8,13.5 0 0 0 690.2,576" stroke="#000" stroke-width="0.7" fill="none" />
<path d="M632.6,579 A28.8,13.5 0 0 0 690.2,579" stroke="#000" stroke-width="0.7" fill="none" />
<path d="M632.6,582 A28.8,13.5 0 0 0 690.2,582" stroke="#000" stroke-width="0.7" fill="none" />
<path d="M632.6,585 A28.8,13.5 0 0 0 690.2,585" stroke="#000" stroke-width="0.7" fill="none" />
<path d="M632.6,588 A28.8,13.5 0 0 0 690.2,588" stroke="#000" stroke-width="0.7" fill="none" />
<path d="M632.6,591 A28.8,13.5 0 0 0 690.2,591" stroke="#000" stroke-width="0.7" fill="none" />
<path d="M632.6,594 A28.8,13.5 0 0 0 690.2,594" stroke="#000" stroke-width="0.7" fill="none" />
<path d="M632.6,597 A28.8,13.5 0 0 0 690.2,597" stroke="#000" stroke-width="0.7" fill="none" />
<path d="M632.6,600 A28.8,13.5 0 0 0 690.2,600" stroke="#000" stroke-width="0.7" fill="none" />
<path d="M632.6,603 A28.8,13.5 0 0 0 690.2,603" stroke="#000" stroke-width="0.7" fill="none" />
<path d="M632.6,606 A28.8,13.5 0 0 0 690.2,606" stroke="#000" stroke-width="0.7" fill="none" />
<path d="M632.6,609 A28.8,13.5 0 0 0 690.2,609" stroke="#000" stroke-width="0.7" fill="none" />
<path d="M632.6,612 A28.8,13.5 0 0 0 690.2,612" stroke="#000" stroke-width="0.7" fill="none" />
<path d="M632.6,615 A28.8,13.5 0 0 0 690.2,615" stroke="#000" stroke-width="0.7" fill="none" />
<path d="M632.6,618 A28.8,13.5 0 0 0 690.2,618" stroke="#000" stroke-width="0.7" fill="none" />
<path d="M632.6,621 A28.8,13.5 0 0 0 690.2,621" stroke="#000" stroke-width="0.7" fill="none" />
<path d="M632.6,624 A28.8,13.5 0 0 0 690.2,624" stroke="#000" stroke-width="0.7" fill="none" />
<path d="M632.6,627 A28.8,13.5 0 0 0 690.2,627" stroke="#000" stroke-width="0.7" fill="none" />
<path d="M632.6,630 A28.8,13.5 0 0 0 690.2,630" stroke="#000" stroke-width="0.7" fill="none" />
<path d="M632.6,633 A28.8,13.5 0 0 0 690.2,633" stroke="#000" stroke-width="0.7" fill="none" />
<path d="M632.6,636 A28.8,13.5 0 0 0 690.2,636" stroke="#000" stroke-width="0.7" fill="none" />
<path d="M632.6,639 A28.8,13.5 0 0 0 690.2,639" stroke="#000" stroke-width="0.7" fill="none" />
<path d="M632.6,642 A28.8,13.5 0 0 0 690.2,642" stroke="#000" stroke-width="0.7" fill="none" />
<path d="M632.6,645 A28.8,13.5 0 0 0 690.2,645" stroke="#000" stroke-width="0.7" fill="none" />
<path d="M632.6,648 A28.8,13.5 0 0 0 690.2,648" stroke="#000" stroke-width="0.7" fill="none" />
<path d="M632.6,652 A28.8,17.8 0 0 0 690.2,652" stroke="#333" stroke-width="1" fill="none" />
<path d="M632.6,650 A28.8,15 0 0 0 690.2,650" stroke="#000" stroke-width="0.7" fill="none" />
<path d="M632.6,567 L634.3,564" stroke="#333" stroke-width="1" fill="none" />
<path d="M690.2,567 L688.5,564" stroke="#333" stroke-width="1" fill="none" />
<polygon points="673.2,584 686.9,577.4 686.9,588.7 673.2,595.3" fill="#fff" stroke="#000" stroke-width="0.9"/>
<line x1="688.5" y1="571" x2="688.5" y2="579" stroke="#000" stroke-width="0.8" />
<line x1="638.8" y1="742" x2="638.8" y2="791" stroke="#333" stroke-width="1.1" />
<line x1="683.6" y1="742" x2="683.6" y2="791" stroke="#333" stroke-width="1.1" />
<path d="M639,744 A22.4,9.5 0 0 1 683.8,744" stroke="#333" stroke-width="1" fill="none" />
<path d="M639,744 A22.4,9.5 0 0 0 683.8,744" stroke="#333" stroke-width="1" fill="none" />
<path d="M639,748.5 A22.4,9.5 0 0 0 683.8,748.5" stroke="#000" stroke-width="1.6" fill="none" />
<path d="M639,752 A22.4,9.5 0 0 0 683.8,752" stroke="#000" stroke-width="1.8" fill="none" />
<path d="M639,754.5 A22.4,9.5 0 0 0 683.8,754.5" stroke="#000" stroke-width="0.6" fill="none" />
<path d="M638.8,789 A22.4,8.5 0 0 0 683.6,789" stroke="#333" stroke-width="1" fill="none" />
<path d="M640,767 C647,773 655,776.5 666.6,776.5 L666.6,781.3 C655,781.3 647,778.5 640,773" stroke="#333" stroke-width="1" fill="none" />
<path d="M643,770 C649,774.5 656,776 662,776" stroke="#000" stroke-width="0.7" fill="none" />
<line x1="664" y1="776.5" x2="664" y2="781.3" stroke="#000" stroke-width="0.7" />
<path d="M640.5,785 L641,792 L643,796 L643,801 L650.6,802 L650.6,795 L648,791" stroke="#333" stroke-width="1" fill="none" />
<line x1="649.5" y1="790" x2="649.5" y2="799" stroke="#000" stroke-width="1.5" />
<path d="M643.5,734.5 A17.5,7 0 0 1 678.6,734.5 L678.6,744 A17.5,9.4 0 0 1 643.5,744 Z" fill="#fff" stroke="#000" stroke-width="1"/>
<path d="M643.5,734.5 A17.5,7 0 0 0 678.5,734.5" stroke="#333" stroke-width="1" fill="none" />
<ellipse cx="661.2" cy="731" rx="13" ry="6.5" fill="#fff" stroke="#000" stroke-width="1"/>
<ellipse cx="661.2" cy="732" rx="9" ry="4" stroke="#000" stroke-width="0.8" fill="none" />
<path d="M651.2,733 A10,5 0 0 0 671.2,733" stroke="#000" stroke-width="1.6" fill="none" />
<path d="M649.5,707 L649.5,730 A11.7,4.5 0 0 0 672.9,730 L672.9,707 Z" fill="#fff" stroke="#000" stroke-width="1.1"/>
<rect x="650" y="709.5" width="2" height="20.5" fill="#222"/>
<rect x="653.8" y="709.5" width="3.4" height="20.5" fill="#000"/>
<rect x="657.5" y="709.5" width="4.2" height="20.5" fill="#999"/>
<rect x="663.6" y="709.5" width="2.8" height="20.5" fill="#000"/>
<rect x="668.6" y="709.5" width="2.4" height="20.5" fill="#000"/>
<rect x="671.2" y="709.5" width="1.5" height="20.5" fill="#888"/>
<path d="M649.5,707.5 A11.7,4.2 0 0 1 672.9,707.5" stroke="#000" stroke-width="1.2" fill="none" />
<path d="M649.5,707.5 L654,711 L657.5,709 L661.5,712 L665.5,709 L669,711 L672.9,707.5" stroke="#000" stroke-width="1.3" fill="none" />
<path d="M651,709 L656,711 L661,709.5 L666,711 L671.5,709" stroke="#333" stroke-width="1" fill="none" />
<path d="M658,698.5 A8.6,3.8 0 1 0 664,698.3" stroke="#000" stroke-width="1.3" fill="none" />
<line x1="652.3" y1="701.5" x2="652.3" y2="706" stroke="#333" stroke-width="1" />
<line x1="669.7" y1="701.5" x2="669.7" y2="706" stroke="#333" stroke-width="1" />
<line x1="654.8" y1="802" x2="654.8" y2="810" stroke="#555" stroke-width="0.9" />
<line x1="661.4" y1="802" x2="661.4" y2="810" stroke="#555" stroke-width="0.9" />
<line x1="668" y1="802" x2="668" y2="810" stroke="#555" stroke-width="0.9" />
<ellipse cx="661.3" cy="830.7" rx="25.2" ry="15.2" stroke="#333" stroke-width="1" fill="none" />
<ellipse cx="661.5" cy="830.9" rx="22.1" ry="11.7" stroke="#333" stroke-width="1" fill="none" />
<path d="M630.7,909.5 A30.4,13.5 0 0 1 691.5,909.5" stroke="#000" stroke-width="1.2" fill="none" />
<path d="M632.5,910.5 A28.6,12.2 0 0 1 689.7,910.5" stroke="#000" stroke-width="0.8" fill="none" />
<path d="M630.7,909.5 A30.4,14.2 0 0 0 691.5,909.5" stroke="#333" stroke-width="1" fill="none" />
<path d="M631.6,911 A29.5,14 0 0 0 690.6,911" stroke="#000" stroke-width="0.6" fill="none" />
<line x1="630.7" y1="909.5" x2="630.7" y2="929.4" stroke="#333" stroke-width="1" />
<line x1="691.5" y1="909.5" x2="691.5" y2="929.4" stroke="#333" stroke-width="1" />
<path d="M630.7,929.4 A30.4,13 0 0 0 691.5,929.4" stroke="#000" stroke-width="0.8" fill="none" />
<path d="M630.7,929.4 L634,936 A27.2,13 0 0 0 688.2,936 L691.5,929.4" stroke="#333" stroke-width="1" fill="none" />
<path d="M634,936 L637,939 A24.2,11 0 0 0 685.2,939 L688.2,936" stroke="#000" stroke-width="0.8" fill="none" />
<path d="M637.7,891 L637.7,906 A23.5,10.5 0 0 0 684.8,906 L684.8,891 Z" fill="#fff" stroke="#000" stroke-width="1"/>
<path d="M637.7,902.5 A23.5,10.5 0 0 0 684.7,902.5" stroke="#000" stroke-width="1.6" fill="none" />
<path d="M637.7,905 A23.5,10.5 0 0 0 684.7,905" stroke="#000" stroke-width="1.8" fill="none" />
<path d="M637.7,899 A23.5,10.5 0 0 0 684.7,899" stroke="#000" stroke-width="0.7" fill="none" />
<path d="M645,896 C648,899 652,901 656,901.5 L657,906 C651,905 646,902 645,899 Z" stroke="#000" stroke-width="0.8" fill="none" />
<path d="M662,901.5 C668,901.5 675,899.5 678.5,897 L678,901 C674,903.5 668,904.5 662,904.5 Z" stroke="#000" stroke-width="0.8" fill="none" />
<line x1="657.2" y1="902" x2="657.2" y2="906" stroke="#000" stroke-width="0.7" />
<path d="M639.2,879 A22.3,13 0 0 1 683.7,879 L683.7,891 A22.3,13 0 0 1 639.2,891 Z" fill="#fff" stroke="#000" stroke-width="1"/>
<path d="M639.2,879 A22.3,13 0 0 0 683.8,879" stroke="#333" stroke-width="1.1" fill="none" />
<ellipse cx="648.6" cy="872.4" rx="3.8" ry="2.3" stroke="#333" stroke-width="0.9" fill="none" />
<ellipse cx="654.8" cy="882.6" rx="4" ry="2.7" stroke="#333" stroke-width="0.9" fill="none" />
<ellipse cx="671.9" cy="885.2" rx="3.6" ry="2.3" stroke="#333" stroke-width="0.9" fill="none" />
<ellipse cx="669.1" cy="875.2" rx="4.5" ry="3" stroke="#333" stroke-width="0.9" fill="none" />
<path d="M646,870.5 L645,871" stroke="#000" stroke-width="1.4" fill="none" />
<path d="M661.3,982.6 L661.3,976 C662.5,972 665.5,970.3 669,970.3 C672.5,970.3 675.5,972 676.2,976 L676.2,982.6 L677.6,984 L677.6,1013 A8.2,3 0 0 1 661.6,1014 L659.7,1012 L659.7,984 Z" fill="#fff" stroke="#000" stroke-width="1"/>
<path d="M662.5,974.5 A6.8,2.6 0 0 0 667.5,976.9" stroke="#000" stroke-width="1.6" fill="none" />
<path d="M670.8,976.9 A6.8,2.6 0 0 0 675.5,974.5" stroke="#000" stroke-width="1.6" fill="none" />
<path d="M662.5,977.5 A6.8,2.6 0 0 0 667.5,979.9" stroke="#000" stroke-width="1.6" fill="none" />
<path d="M670.8,979.9 A6.8,2.6 0 0 0 675.5,977.5" stroke="#000" stroke-width="1.6" fill="none" />
<path d="M662.5,980.5 A6.8,2.6 0 0 0 667.5,982.9" stroke="#000" stroke-width="1.8" fill="none" />
<path d="M670.8,982.9 A6.8,2.6 0 0 0 675.5,980.5" stroke="#000" stroke-width="1.8" fill="none" />
<path d="M659.7,984 A9,3.2 0 0 0 677.7,984" stroke="#000" stroke-width="1.2" fill="none" />
<path d="M659.7,987.5 A9,3.2 0 0 0 677.7,987.5" stroke="#000" stroke-width="1.3" fill="none" />
<path d="M659.7,991 A9,3.2 0 0 0 677.7,991" stroke="#000" stroke-width="1.2" fill="none" />
<path d="M659.7,994.5 A9,3.2 0 0 0 677.7,994.5" stroke="#333" stroke-width="1.1" fill="none" />
<path d="M659.7,998 A9,3.2 0 0 0 677.7,998" stroke="#333" stroke-width="1.0" fill="none" />
<path d="M659.7,1007 A9,3.2 0 0 0 677.7,1007" stroke="#333" stroke-width="1.0" fill="none" />
<path d="M659.7,1010 A9,3.2 0 0 0 677.7,1010" stroke="#333" stroke-width="0.9" fill="none" />
<line x1="661.6" y1="998" x2="661.6" y2="1013" stroke="#333" stroke-width="1" />
<line x1="673" y1="999.5" x2="673" y2="1006" stroke="#333" stroke-width="0.9" />
<line x1="676.8" y1="998" x2="676.8" y2="1012" stroke="#333" stroke-width="1" />
<line x1="661.6" y1="1014" x2="661.6" y2="1059" stroke="#333" stroke-width="1.1" />
<line x1="676.5" y1="1013" x2="676.5" y2="1059" stroke="#333" stroke-width="1.1" />
<path d="M648,997 C648,993 651,991.1 654.2,991.1 C657.5,991.1 660.3,993 660.3,997 L661,998 L661,1036 A7.2,2.8 0 0 1 646,1036 L646,998 Z" fill="#fff" stroke="#000" stroke-width="1"/>
<ellipse cx="654.2" cy="993.8" rx="5" ry="2.2" stroke="#333" stroke-width="0.9" fill="none" />
<path d="M651,994.5 L657,997.5" stroke="#000" stroke-width="1.2" fill="none" />
<path d="M657,994.5 L651,997.5" stroke="#000" stroke-width="1.2" fill="none" />
<path d="M646,998.5 A7.5,2.8 0 0 0 661,998.5" stroke="#000" stroke-width="1.2" fill="none" />
<path d="M646,1002 A7.5,2.8 0 0 0 661,1002" stroke="#000" stroke-width="1.6" fill="none" />
<path d="M646,1005.5 A7.5,2.8 0 0 0 661,1005.5" stroke="#000" stroke-width="1.2" fill="none" />
<path d="M646,1009 A7.5,2.8 0 0 0 661,1009" stroke="#000" stroke-width="1.4" fill="none" />
<path d="M646,1013 A7.5,2.8 0 0 0 661,1013" stroke="#000" stroke-width="1.2" fill="none" />
<path d="M646,1016.5 A7.5,2.8 0 0 0 661,1016.5" stroke="#000" stroke-width="1.5" fill="none" />
<line x1="647.5" y1="1018.3" x2="647.5" y2="1029" stroke="#333" stroke-width="1" />
<line x1="653.3" y1="1019.5" x2="653.3" y2="1029" stroke="#333" stroke-width="1" />
<line x1="659.7" y1="1018.3" x2="659.7" y2="1029" stroke="#333" stroke-width="1" />
<path d="M646,1029 A7.5,2.8 0 0 0 661,1029" stroke="#333" stroke-width="1" fill="none" />
<path d="M646,1034 A7.5,3 0 0 0 661,1034" stroke="#333" stroke-width="1" fill="none" />
<line x1="647.5" y1="1037" x2="647.5" y2="1186" stroke="#333" stroke-width="1.1" />
<line x1="661.3" y1="1036" x2="661.3" y2="1060" stroke="#333" stroke-width="1.1" />
<path d="M647.3,1050.5 A6.9,2.5 0 0 0 661.1,1050.5" stroke="#333" stroke-width="1" fill="none" />
<path d="M659.9,1062 A8.9,4.2 0 0 1 677.6,1062 L678.4,1080 L678.4,1092 L679.4,1094 L679.4,1118 A10.6,4.5 0 0 1 658.1,1118 L658.1,1094 L659.4,1092 L659.4,1080 Z" fill="#fff" stroke="#000" stroke-width="1"/>
<path d="M666,1058.5 A4.5,2.8 0 1 0 672,1058.5" stroke="#000" stroke-width="1.2" fill="none" />
<path d="M659.9,1062 A8.9,3.4 0 0 0 677.7,1062" stroke="#333" stroke-width="1.1" fill="none" />
<path d="M659.6,1066.5 A9.2,3.4 0 0 0 678,1066.5" stroke="#000" stroke-width="1.2" fill="none" />
<path d="M659.5,1070.5 A9.3,3.4 0 0 0 678.1,1070.5" stroke="#333" stroke-width="0.9" fill="none" />
<path d="M659.4,1074.5 A9.4,3.4 0 0 0 678.2,1074.5" stroke="#000" stroke-width="1.2" fill="none" />
<path d="M659.3,1077 A9.5,3.2 0 0 0 678.3,1077" stroke="#000" stroke-width="1.8" fill="none" />
<line x1="660.9" y1="1081" x2="660.9" y2="1091" stroke="#333" stroke-width="1" />
<line x1="669" y1="1082" x2="669" y2="1092" stroke="#333" stroke-width="1" />
<line x1="677.4" y1="1081" x2="677.4" y2="1091" stroke="#333" stroke-width="1" />
<path d="M660.9,1082 L665,1081 L669,1082.5 L673,1081 L677.4,1082" stroke="#000" stroke-width="0.8" fill="none" />
<path d="M659.3,1089.5 A9.5,3.2 0 0 0 678.3,1089.5" stroke="#000" stroke-width="1.5" fill="none" />
<path d="M658.2,1093.5 A10.6,4 0 0 0 679.4,1093.5" stroke="#333" stroke-width="1" fill="none" />
<line x1="662.7" y1="1097.5" x2="662.7" y2="1109" stroke="#333" stroke-width="1" />
<line x1="669.5" y1="1098" x2="669.5" y2="1110" stroke="#000" stroke-width="0.8" />
<line x1="671.5" y1="1098" x2="671.5" y2="1110" stroke="#000" stroke-width="0.8" />
<rect x="676.2" y="1097" width="2.2" height="12.5" fill="#333"/>
<path d="M658.8,1107 A10,3.8 0 0 0 678.8,1107" stroke="#000" stroke-width="1.4" fill="none" />
<path d="M658.2,1118 A10.6,4.5 0 0 0 679.4,1118" stroke="#333" stroke-width="1" fill="none" />
<line x1="659.6" y1="1121" x2="659.6" y2="1203.5" stroke="#333" stroke-width="1" />
<line x1="678.6" y1="1121" x2="678.6" y2="1144" stroke="#333" stroke-width="1" />
<line x1="678.6" y1="1151" x2="678.6" y2="1194" stroke="#333" stroke-width="1" />
<path d="M647.2,1186.5 C648,1185.9 650.5,1183.7 652,1183 C653.5,1182.3 654.6,1182.7 656,1182.5 C657.4,1182.3 659.8,1181.8 660.5,1181.7" stroke="#333" stroke-width="1" fill="none" />
<path d="M659.4,1203.5 C660.3,1202.8 662.9,1200 665,1199 C667.1,1198 669.7,1198.3 672,1197.5 C674.3,1196.7 677.5,1194.6 678.6,1194" stroke="#333" stroke-width="1" fill="none" />
<path d="M647.4,1227.4 C648.2,1226.8 650.4,1224.3 652,1223.5 C653.6,1222.7 655.2,1223.3 657,1222.7 C658.8,1222.1 661.6,1220.3 662.5,1219.8" stroke="#333" stroke-width="1" fill="none" />
<line x1="647.4" y1="1227.4" x2="647.4" y2="1320" stroke="#333" stroke-width="1" />
<line x1="662.5" y1="1219.8" x2="662.5" y2="1246" stroke="#333" stroke-width="1" />
<path d="M662.5,1229 C663.2,1228.5 665.4,1226.5 667,1226 C668.6,1225.5 670.4,1226.6 672,1226 C673.6,1225.4 675.8,1223.2 676.6,1222.6" stroke="#333" stroke-width="1" fill="none" />
<line x1="676.6" y1="1222.6" x2="676.6" y2="1238" stroke="#333" stroke-width="1" />
<path d="M659.6,1248 C660.5,1247.5 662.9,1245.8 665,1245 C667.1,1244.2 669.8,1244.3 672,1243 C674.2,1241.7 677.4,1238.2 678.5,1237.3" stroke="#333" stroke-width="1" fill="none" />
<line x1="659.6" y1="1248" x2="659.6" y2="1375" stroke="#000" stroke-width="1.2" />
<line x1="678.5" y1="1237.3" x2="678.5" y2="1375" stroke="#000" stroke-width="1.2" />
<path d="M647.1,1307 A6.5,2.5 0 0 0 660.1,1307" stroke="#333" stroke-width="1" fill="none" />
<path d="M678.5,1317.3 L686.8,1324.5 L687.5,1332.5 L682.8,1341 L678.9,1343.7" stroke="#333" stroke-width="1" fill="none" />
<path d="M678.9,1336.4 L682.8,1334.4 L686.8,1324.5" stroke="#000" stroke-width="0.8" fill="none" />
<line x1="681.5" y1="1335" x2="681.5" y2="1342" stroke="#000" stroke-width="0.8" />
<line x1="682.8" y1="1334.4" x2="682.8" y2="1341" stroke="#000" stroke-width="0.8" />
<path d="M645.9,1338 C641,1340 637.5,1344 636,1349.6 L636,1356.2 L638.6,1361.5 L647.2,1365.5 L659.7,1368.1 L659.7,1338 Z" fill="#fff"/>
<path d="M645.9,1338 C641,1340 637.5,1344 636,1349.6 L636,1356.2 L638.6,1361.5 L647.2,1365.5 L659.7,1368.1" stroke="#333" stroke-width="1" fill="none" />
<path d="M636.6,1351 L647.2,1358.2 L659.7,1357.2" stroke="#333" stroke-width="0.9" fill="none" />
<line x1="647.5" y1="1358.2" x2="647.5" y2="1365.5" stroke="#000" stroke-width="0.8" />
<line x1="650.1" y1="1358" x2="650.1" y2="1366" stroke="#000" stroke-width="0.8" />
<rect x="650.5" y="1365.8" width="9" height="2.2" fill="#888"/>
<path d="M646.4,1325.2 L646.4,1342 L645.5,1345 A7.3,4.3 0 0 0 660,1346 L660,1325 Z" fill="#fff"/>
<line x1="646.4" y1="1320" x2="646.4" y2="1342" stroke="#333" stroke-width="1" />
<path d="M646.4,1325.2 A6.8,2.8 0 0 0 660,1325.2" stroke="#333" stroke-width="1" fill="none" />
<path d="M646.4,1327.5 A6.8,2.8 0 0 0 660,1327.5" stroke="#000" stroke-width="0.8" fill="none" />
<path d="M646.4,1330 A6.8,2.8 0 0 0 660,1330" stroke="#333" stroke-width="1" fill="none" />
<line x1="647.8" y1="1331" x2="647.8" y2="1342" stroke="#000" stroke-width="0.8" />
<line x1="653.4" y1="1332.5" x2="653.4" y2="1342" stroke="#000" stroke-width="0.8" />
<path d="M646.4,1341.5 A6.8,2.4 0 0 0 660,1341.5" stroke="#333" stroke-width="1" fill="none" />
<path d="M646,1342 L645.5,1345 A7.4,4.3 0 0 0 660,1346.5" stroke="#000" stroke-width="1.2" fill="none" />
<rect x="659.6" y="1250" width="18.9" height="124" fill="#fff"/>
<line x1="659.6" y1="1248" x2="659.6" y2="1375" stroke="#000" stroke-width="1.2" />
<line x1="678.5" y1="1237.3" x2="678.5" y2="1375" stroke="#333" stroke-width="1.1" />
<path d="M658.1,1374.6 L658.1,1387 L659.2,1389 L659.2,1403 L658.5,1405 A10.5,5 0 0 0 679.6,1405 L679,1403 L679,1389 L679.9,1387 L679.9,1374.6 Z" fill="#fff"/>
<line x1="658.1" y1="1374" x2="658.1" y2="1387" stroke="#333" stroke-width="1" />
<line x1="679.9" y1="1374" x2="679.9" y2="1387" stroke="#333" stroke-width="1" />
<path d="M658.1,1374.6 A10.9,7.4 0 0 0 679.9,1374.6" stroke="#333" stroke-width="1" fill="none" />
<path d="M658.1,1384 A10.9,6.5 0 0 0 679.9,1384" stroke="#333" stroke-width="1.1" fill="none" />
<line x1="659.2" y1="1389" x2="659.2" y2="1403" stroke="#333" stroke-width="1" />
<line x1="679" y1="1389" x2="679" y2="1403" stroke="#333" stroke-width="1" />
<line x1="662.6" y1="1391" x2="662.6" y2="1403" stroke="#000" stroke-width="1.4" />
<line x1="669.4" y1="1392" x2="669.4" y2="1404" stroke="#000" stroke-width="0.8" />
<line x1="670.8" y1="1392" x2="670.8" y2="1404" stroke="#000" stroke-width="0.8" />
<line x1="676.8" y1="1391" x2="676.8" y2="1403" stroke="#000" stroke-width="1.4" />
<path d="M659,1400 A10,4.5 0 0 0 679,1400" stroke="#333" stroke-width="1" fill="none" />
<path d="M658.5,1405 A10.5,5.5 0 0 0 679.5,1405" stroke="#000" stroke-width="1.6" fill="none" />
<path d="M644.5,1405.7 C646,1402 648,1400 649,1399 C652,1396.5 655,1395.2 658.7,1394.4" stroke="#333" stroke-width="1" fill="none" />
<path d="M679,1394.4 C683,1395.5 687,1398 689.8,1401.2 L693.5,1406.3" stroke="#333" stroke-width="1" fill="none" />
<path d="M644.5,1405.7 L655.3,1416 L658.7,1418.2 L679.6,1418.2 L683,1416 L693.5,1406.3" stroke="#333" stroke-width="1" fill="none" />
<path d="M644.5,1405.7 L644.5,1425 L656.4,1435.7 L668.3,1438.6 L682.4,1435.7 L693.5,1425 L693.5,1406.3" stroke="#333" stroke-width="1" fill="none" />
<line x1="657" y1="1418" x2="657" y2="1436" stroke="#333" stroke-width="0.9" />
<line x1="658.7" y1="1418.2" x2="658.7" y2="1436.5" stroke="#000" stroke-width="0.7" />
<line x1="680.2" y1="1418.2" x2="680.2" y2="1436.5" stroke="#000" stroke-width="0.7" />
<line x1="682.2" y1="1416.5" x2="682.2" y2="1436" stroke="#333" stroke-width="0.9" />
<line x1="693" y1="1407" x2="693" y2="1425" stroke="#000" stroke-width="1.4" />
<line x1="661.3" y1="311" x2="661.3" y2="325" stroke="#444" stroke-width="0.9" stroke-dasharray="9 3 1.5 3"/>
<line x1="661.3" y1="330" x2="661.3" y2="372" stroke="#444" stroke-width="0.9" stroke-dasharray="9 3 1.5 3"/>
<line x1="661.3" y1="379" x2="661.3" y2="420" stroke="#444" stroke-width="0.9" stroke-dasharray="9 3 1.5 3"/>
<line x1="661.3" y1="440" x2="661.3" y2="470" stroke="#444" stroke-width="0.9" stroke-dasharray="9 3 1.5 3"/>
<line x1="661.3" y1="674.5" x2="661.3" y2="698" stroke="#444" stroke-width="0.9" stroke-dasharray="9 3 1.5 3"/>
<line x1="654.8" y1="799" x2="654.8" y2="870" stroke="#555" stroke-width="0.9" stroke-dasharray="9 6 1.5 5"/>
<line x1="661.3" y1="799" x2="661.3" y2="870" stroke="#555" stroke-width="0.9" stroke-dasharray="9 6 1.5 5"/>
<line x1="668.3" y1="799" x2="668.3" y2="870" stroke="#555" stroke-width="0.9" stroke-dasharray="9 6 1.5 5"/>
<line x1="654.8" y1="952" x2="654.8" y2="991" stroke="#555" stroke-width="0.9" stroke-dasharray="9 6 1.5 5"/>
<line x1="661.3" y1="952" x2="661.3" y2="972" stroke="#555" stroke-width="0.9" stroke-dasharray="9 6 1.5 5"/>
<line x1="668.3" y1="952" x2="668.3" y2="968" stroke="#555" stroke-width="0.9" stroke-dasharray="9 6 1.5 5"/>
<line x1="669.3" y1="975" x2="669.3" y2="1058" stroke="#555" stroke-width="0.9" stroke-dasharray="8 3.5 1.5 3.5"/>
<line x1="663.5" y1="377.3" x2="690" y2="377.3" stroke="#fff" stroke-width="6"/>
<line x1="655.5" y1="1032.3" x2="690" y2="1032.3" stroke="#fff" stroke-width="6.5"/>
<line x1="370.9" y1="508.2" x2="480.8" y2="508.2" stroke="#333" stroke-width="1" />
<line x1="720.2" y1="260.2" x2="859" y2="260.2" stroke="#333" stroke-width="1" />
<line x1="655" y1="377.2" x2="859" y2="377.2" stroke="#333" stroke-width="1" />
<line x1="689.4" y1="749.2" x2="858.8" y2="749.2" stroke="#333" stroke-width="1" />
<line x1="687.2" y1="831.9" x2="858.8" y2="831.9" stroke="#333" stroke-width="1" />
<line x1="654.2" y1="1032.3" x2="859" y2="1032.3" stroke="#333" stroke-width="1" />
<line x1="682.3" y1="1008.6" x2="722.7" y2="1032.3" stroke="#333" stroke-width="1" />
<line x1="674.9" y1="1148.3" x2="859" y2="1148.3" stroke="#333" stroke-width="1" />
<path d="M488.6,497.4 L491.9,497.4 L491.9,518.4 L488.6,518.4 L488.6,503 L483.6,503 L483.6,500.7 C485.8,500.5 487.6,499.5 488.6,497.4 Z" fill="#000"/>
<text x="863.2" y="270.8" font-size="30.5" stroke="#000" stroke-width="0.45">2</text>
<text x="863.4" y="388.2" font-size="30.5" stroke="#000" stroke-width="0.45">3</text>
<text x="863" y="759.9" font-size="30.5" stroke="#000" stroke-width="0.45">4</text>
<text x="863.2" y="842.5" font-size="30.5" stroke="#000" stroke-width="0.45">5</text>
<text x="862.4" y="1042.8" font-size="30.5" stroke="#000" stroke-width="0.45">6</text>
<text x="862.6" y="1158.9" font-size="30.5" stroke="#000" stroke-width="0.45">7</text>
</svg>
</body></html>
